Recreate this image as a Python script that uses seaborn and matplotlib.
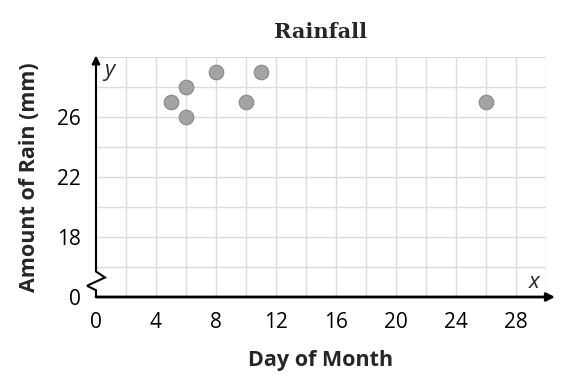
import matplotlib
matplotlib.use("Agg")
import matplotlib.pyplot as plt
import seaborn as sns
import pandas as pd

# Data
days = [5, 6, 6, 8, 10, 11, 26]
rain_mm = [27, 28, 26, 29, 27, 29, 27]
x_ticks = [0, 4, 8, 12, 16, 20, 24, 28]
y_ticks = [14, 18, 22, 26]
y_tick_labels = ["0", "18", "22", "26"]

df = pd.DataFrame({"Day of Month": days, "Amount of Rain (mm)": rain_mm})

sns.set_theme(style="white")
plt.rcParams['font.family'] = ['Open Sans', 'DejaVu Sans']

fig = plt.figure(figsize=(5.78, 3.86), dpi=100)
ax = fig.add_axes([96/578, (386-297)/386, 450/578, 240/386])

ax.set_xlim(0, 30)
ax.set_ylim(14, 30)

# grid
for gx in range(2, 31, 2):
    ax.axvline(gx, color="#dcdcdc", lw=1.0, zorder=0)
for gy in range(16, 31, 2):
    ax.axhline(gy, color="#dcdcdc", lw=1.0, zorder=0)

sns.scatterplot(data=df, x="Day of Month", y="Amount of Rain (mm)", ax=ax,
                s=110, color="#a3a3a3", edgecolor="#888888", linewidth=0.8,
                zorder=5, clip_on=False)

for s in ax.spines.values():
    s.set_visible(False)

ax.set_xticks(x_ticks)
ax.set_xticklabels([str(t) for t in x_ticks])
ax.set_yticks(y_ticks)
ax.set_yticklabels(y_tick_labels)
ax.tick_params(axis="both", length=0, labelsize=15, colors="black")
ax.tick_params(axis="x", pad=11)
ax.tick_params(axis="y", pad=11)

# x axis with arrow
ax.annotate("", xy=(30.6, 14), xytext=(0, 14),
            arrowprops=dict(arrowstyle="-|>", color="black", lw=2.0,
                            mutation_scale=12, shrinkA=0, shrinkB=0),
            annotation_clip=False, zorder=6)
# y axis with arrow and break zigzag
ax.annotate("", xy=(0, 30.1), xytext=(0, 15.9),
            arrowprops=dict(arrowstyle="-|>", color="black", lw=1.5,
                            mutation_scale=12, shrinkA=0, shrinkB=0),
            annotation_clip=False, zorder=6)
ax.plot([0, 0, 0.6, -0.6, 0, 0], [15.95, 15.7, 15.3, 14.75, 14.45, 14],
        color="black", lw=1.5, clip_on=False, zorder=6, solid_joinstyle="miter")

ax.text(0.55, 29.1, "y", fontsize=16, style="italic", va="center", ha="left")
ax.text(29.2, 15.0, "x", fontsize=16, style="italic", va="center", ha="center")

ax.set_title("Rainfall", fontsize=15, fontweight="heavy",
             family=["DejaVu Serif"], pad=14)
ax.set_xlabel("Day of Month", fontsize=15.5, fontweight="bold", labelpad=12)
ax.set_ylabel("Amount of Rain (mm)", fontsize=15.5, fontweight="bold", labelpad=12)

fig.savefig("out.png", dpi=100)
